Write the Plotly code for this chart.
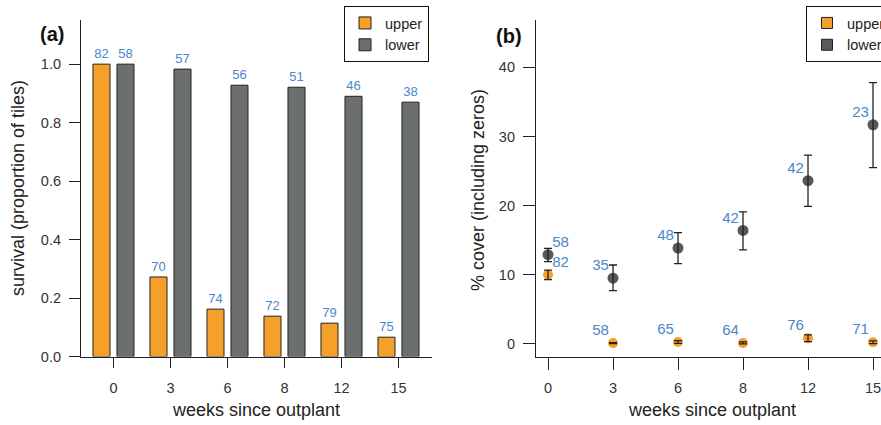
import plotly.graph_objects as go

W, H = 881, 425
FONT = "Liberation Sans, Arial, Helvetica, sans-serif"

# ---------------- data ----------------
weeks = ["0", "3", "6", "8", "12", "15"]

# panel (a): survival (proportion of tiles)
surv_upper = [1.0, 0.272, 0.162, 0.138, 0.114, 0.066]
surv_lower = [1.0, 0.983, 0.928, 0.921, 0.890, 0.870]
n_surv_upper = [82, 70, 74, 72, 79, 75]
n_surv_lower = [58, 57, 56, 51, 46, 38]

# panel (b): % cover (including zeros), with error-bar bounds
cover_upper = [10.0, 0.10, 0.25, 0.12, 0.80, 0.22]
cover_upper_hi = [10.65, 0.17, 0.45, 0.27, 1.30, 0.42]
cover_upper_lo = [9.30, 0.03, 0.05, 0.00, 0.30, 0.02]
cover_lower = [12.9, 9.5, 13.85, 16.4, 23.6, 31.7]
cover_lower_hi = [13.8, 11.4, 16.1, 19.1, 27.3, 37.8]
cover_lower_lo = [11.9, 7.7, 11.6, 13.6, 19.9, 25.5]
n_cover_upper = [82, 58, 65, 64, 76, 71]
n_cover_lower = [58, 35, 48, 42, 42, 23]

series_names = ["upper", "lower"]

# ---------------- styles ----------------
ORANGE = "#F5A02A"
GRAY_BAR = "#6C6F6F"
GRAY_PT = "#555959"
EDGE = "#222222"
BLUE = "#4A88C9"
TICK_COL = "#333333"


def fx(px):
    return px / W


def fy(py):
    return 1 - py / H


fig = go.Figure()

# ---- panel (a) bars ----
for name, vals, ns, col in [
    (series_names[0], surv_upper, n_surv_upper, ORANGE),
    (series_names[1], surv_lower, n_surv_lower, GRAY_BAR),
]:
    fig.add_trace(go.Bar(
        x=weeks, y=vals, name=name,
        marker=dict(color=col, line=dict(color=EDGE, width=1)),
        text=[str(n) for n in ns], textposition="outside",
        textfont=dict(color=BLUE, size=13, family=FONT),
        constraintext="none", cliponaxis=False,
        xaxis="x", yaxis="y", legend="legend",
    ))

# ---- panel (b) points ----
pos_labels = ["top right"] + ["top left"] * (len(weeks) - 1)
for name, vals, hi, lo, ns, col, sz in [
    (series_names[1], cover_lower, cover_lower_hi, cover_lower_lo, n_cover_lower, GRAY_PT, 11),
    (series_names[0], cover_upper, cover_upper_hi, cover_upper_lo, n_cover_upper, ORANGE, 10),
]:
    fig.add_trace(go.Scatter(
        x=weeks, y=vals, mode="markers",
        marker=dict(color=col, size=sz),
        showlegend=False, cliponaxis=False,
        xaxis="x2", yaxis="y2",
    ))
    # error bars drawn on top of markers
    fig.add_trace(go.Scatter(
        x=weeks, y=vals, mode="markers",
        marker=dict(color="rgba(0,0,0,0)", size=1),
        error_y=dict(type="data", symmetric=False,
                     array=[h - v for h, v in zip(hi, vals)],
                     arrayminus=[v - l for v, l in zip(vals, lo)],
                     color=EDGE, thickness=1.3, width=4),
        showlegend=False, hoverinfo="skip", cliponaxis=False,
        xaxis="x2", yaxis="y2",
    ))
    # sample-size labels close to the points
    fig.add_trace(go.Scatter(
        x=weeks, y=vals, mode="markers+text",
        marker=dict(color="rgba(0,0,0,0)", size=5),
        text=[str(n) for n in ns], textposition=pos_labels,
        textfont=dict(color=BLUE, size=15, family=FONT),
        showlegend=False, hoverinfo="skip", cliponaxis=False,
        xaxis="x2", yaxis="y2",
    ))

# legend entries for panel (b)
for name, col in [(series_names[0], ORANGE), (series_names[1], "#555a5a")]:
    fig.add_trace(go.Scatter(
        x=[None], y=[None], mode="markers", name=name,
        marker=dict(symbol="square", size=11, color=col, line=dict(color=EDGE, width=1)),
        xaxis="x2", yaxis="y2", legend="legend2",
    ))

ydom = [fy(356.5), fy(20)]
tickfont = dict(family=FONT, size=14.5, color=TICK_COL)
axis_common = dict(showgrid=False, zeroline=False, showline=True, linecolor=EDGE,
                   linewidth=1.2, ticks="outside", tickcolor=EDGE, tickwidth=1.2,
                   tickfont=tickfont, automargin=False, fixedrange=True)

fig.update_layout(
    width=W, height=H,
    margin=dict(l=0, r=0, t=0, b=0, autoexpand=False),
    paper_bgcolor="white", plot_bgcolor="white",
    font=dict(family=FONT, color=TICK_COL),
    barmode="group", bargap=0.158, bargroupgap=0.29,
    xaxis=dict(domain=[fx(81), fx(432)], type="category", range=[-0.57, 5.588],
               ticklen=10, ticklabelstandoff=8, anchor="y", **axis_common),
    yaxis=dict(domain=ydom, range=[0, 1.151], tickvals=[0, 0.2, 0.4, 0.6, 0.8, 1.0],
               tickformat=".1f", ticklen=11, ticklabelstandoff=5, anchor="x", **axis_common),
    xaxis2=dict(domain=[fx(536), 1.0], type="category", range=[-0.185, 5.123],
                ticklen=12, ticklabelstandoff=6, anchor="y2", **axis_common),
    yaxis2=dict(domain=ydom, range=[-1.84, 46.86], tickvals=[0, 10, 20, 30, 40],
                ticklen=12, ticklabelstandoff=5, anchor="x2", **axis_common),
    legend=dict(x=fx(344), y=fy(6), xanchor="left", yanchor="top",
                bordercolor="#111", borderwidth=1, bgcolor="white",
                font=dict(family=FONT, size=14.5, color="#222"),
                tracegroupgap=0, itemclick=False, itemdoubleclick=False),
    legend2=dict(x=fx(806), y=fy(6), xanchor="left", yanchor="top",
                 bordercolor="#111", borderwidth=1, bgcolor="white",
                 font=dict(family=FONT, size=14.5, color="#222"),
                 tracegroupgap=0, itemclick=False, itemdoubleclick=False),
    showlegend=True,
)

# small extension of the baseline to the left of the y axis in panel (a)
fig.add_shape(type="line", xref="paper", yref="y", x0=fx(70), x1=fx(81), y0=0, y1=0,
              line=dict(color=EDGE, width=1.2))

title_font = dict(family=FONT, size=18, color="#222")
annos = [
    dict(text="<b>(a)</b>", x=fx(52), y=fy(34), font=dict(family=FONT, size=20, color="#111")),
    dict(text="<b>(b)</b>", x=fx(509), y=fy(36), font=dict(family=FONT, size=20, color="#111")),
    dict(text="weeks since outplant", x=fx(256), y=fy(410), font=title_font),
    dict(text="weeks since outplant", x=fx(712), y=fy(410), font=title_font),
    dict(text="survival (proportion of tiles)", x=fx(18), y=fy(188), textangle=-90, font=title_font),
    dict(text="% cover (including zeros)", x=fx(478), y=fy(190), textangle=-90, font=title_font),
]
for a in annos:
    fig.add_annotation(xref="paper", yref="paper", showarrow=False,
                       xanchor="center", yanchor="middle", **a)

fig.write_html("out.html")
